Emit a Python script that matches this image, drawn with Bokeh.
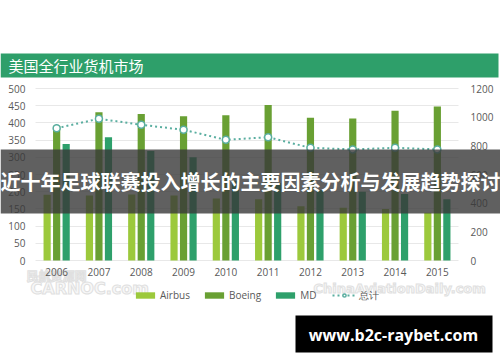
from bokeh.plotting import figure
from bokeh.models import (Range1d, LinearAxis, FixedTicker, Grid,
                          Legend, LegendItem, BoxAnnotation, Label, ColumnDataSource)
from bokeh.embed import file_html
from bokeh.resources import INLINE

years = ["2006", "2007", "2008", "2009", "2010", "2011", "2012", "2013", "2014", "2015"]
airbus = [191, 189, 192, 189, 180, 178, 158, 153, 150, 139]
boeing = [392, 431, 426, 419, 422, 452, 415, 413, 435, 448]
md = [339, 358, 318, 300, 232, 225, 205, 200, 193, 178]
total = [923, 989, 947, 912, 842, 860, 786, 775, 786, 775]

left_ticks = [0, 50, 100, 150, 200, 250, 300, 350, 400, 450, 500]
right_ticks = [0, 200, 400, 600, 800, 1000, 1200]

C_AIR = "#9cc93c"
C_BOE = "#69a033"
C_MD = "#2ea06b"
C_TOT = "#5aaea0"
TICK_COLOR = "#595959"
FONT = "Open Sans"

# canvas geometry (px)
W, H = 500, 362
FL, FR, FT, FB = 35, 458, 88, 260   # chart plotting area inside the canvas

n = len(years)
idx = list(range(n))
ux = (FR - FL) / n
x_start = -0.5 - FL / ux
x_end = n - 0.5 + (W - FR) / ux
lmax, rmax = left_ticks[-1], right_ticks[-1]
uy = (FB - FT) / lmax
uy2 = (FB - FT) / rmax

src = ColumnDataSource(dict(x=idx, year=years, airbus=airbus, boeing=boeing, md=md, total=total,
                            xa=[i - 0.225 for i in idx], xm=[i + 0.225 for i in idx]))

p = figure(width=W, height=H, x_range=Range1d(x_start, x_end),
           y_range=Range1d(-(H - FB) / uy, lmax + FT / uy),
           output_backend="svg", toolbar_location=None, title=None,
           x_axis_location=None, y_axis_location=None,
           min_border=0, min_border_left=0, min_border_right=0,
           min_border_top=0, min_border_bottom=0,
           background_fill_color="white", border_fill_color="white", outline_line_color=None)
p.extra_y_ranges = {"total": Range1d(-(H - FB) / uy2, rmax + FT / uy2)}
p.grid.visible = False

# faint watermarks (beneath everything else)
for txt, cx, cy, fs, fnt in [("民航资源网", 26, 275, "12px", "Noto Sans CJK SC"),
                             ("CARNOC.com", 30, 288, "16px", "DejaVu Sans"),
                             ("ChinaAviationDaily.com", 313, 288, "13px", "DejaVu Sans")]:
    p.add_layout(Label(x=cx, y=H - cy, x_units="screen", y_units="screen", text=txt,
                       text_font=fnt, text_font_size=fs, text_font_style="bold",
                       text_color="#f8f8f8", text_alpha=1, text_baseline="middle",
                       text_align="left", text_outline_color="#e0e0e0", level="underlay"))

# horizontal grid lines (left-axis ticks), limited to the chart width
if "cross_bounds" in Grid.properties():
    g = Grid(dimension=1, ticker=FixedTicker(ticks=left_ticks), bounds=(0, lmax),
             cross_bounds=(-0.5, n - 0.5), grid_line_color="#e8e8e8", grid_line_width=1)
    p.add_layout(g)
else:
    p.segment(x0=[-0.5] * len(left_ticks), x1=[n - 0.5] * len(left_ticks),
              y0=left_ticks, y1=left_ticks, line_color="#e8e8e8", line_width=1)

r_air = p.vbar(x="xa", top="airbus", width=0.17, source=src, fill_color=C_AIR, line_color=None)
r_boe = p.vbar(x="x", top="boeing", width=0.17, source=src, fill_color=C_BOE, line_color=None)
r_md = p.vbar(x="xm", top="md", width=0.17, source=src, fill_color=C_MD, line_color=None)
r_line = p.line("x", "total", source=src, y_range_name="total",
                line_color=C_TOT, line_width=2, line_dash="2 3")
r_pts = p.scatter("x", "total", source=src, y_range_name="total", size=7,
                  fill_color="white", line_color=C_TOT, line_width=1.5)

def style_axis(ax, standoff):
    ax.axis_line_color = None
    ax.major_tick_line_color = None
    ax.minor_tick_line_color = None
    ax.major_tick_out = 0
    ax.major_tick_in = 0
    ax.major_label_standoff = standoff
    ax.major_label_text_font = FONT
    ax.major_label_text_font_size = "10px"
    ax.major_label_text_color = TICK_COLOR

lax = LinearAxis(ticker=FixedTicker(ticks=left_ticks), bounds=(0, lmax), fixed_location=-0.5)
style_axis(lax, 10)
p.add_layout(lax, "left")

rax = LinearAxis(y_range_name="total", ticker=FixedTicker(ticks=right_ticks), bounds=(0, rmax),
                 fixed_location=n - 0.5)
style_axis(rax, 12)
p.add_layout(rax, "right")

bax = LinearAxis(ticker=FixedTicker(ticks=idx), bounds=(-0.5, n - 0.5), fixed_location=0,
                 major_label_overrides={i: y for i, y in zip(idx, years)})
style_axis(bax, 7)
p.add_layout(bax, "below")

# screen coordinates (frame = whole canvas, origin bottom-left)
def sx(cx):
    return cx

def sy(cy):
    return H - cy

legend = Legend(items=[
    LegendItem(label="Airbus", renderers=[r_air]),
    LegendItem(label="Boeing", renderers=[r_boe]),
    LegendItem(label="MD", renderers=[r_md]),
    LegendItem(label="总计", renderers=[r_line, r_pts]),
], orientation="horizontal", location=(sx(133), sy(302.5)))
legend.glyph_width = 24
legend.glyph_height = 8
legend.label_height = 12
legend.label_standoff = 3
legend.spacing = 12
legend.padding = 0
legend.margin = 0
legend.label_text_font = FONT
legend.label_text_font_size = "10px"
legend.label_text_color = TICK_COLOR
legend.border_line_color = None
legend.background_fill_alpha = 0
p.add_layout(legend, "center")

# title band
p.add_layout(BoxAnnotation(left=sx(0), right=sx(498), top=sy(53), bottom=sy(77),
                           left_units="screen", right_units="screen",
                           top_units="screen", bottom_units="screen",
                           fill_color="#2e9f6a", fill_alpha=1, line_color=None))
p.add_layout(Label(x=sx(8), y=sy(65), x_units="screen", y_units="screen",
                   text="美国全行业货机市场", text_font="Noto Sans CJK SC",
                   text_font_size="15px", text_color="white", text_baseline="middle",
                   text_align="left"))

# dark banner
p.add_layout(BoxAnnotation(left=sx(0), right=sx(500), top=sy(149), bottom=sy(213),
                           left_units="screen", right_units="screen",
                           top_units="screen", bottom_units="screen",
                           fill_color="#383838", fill_alpha=0.8, line_color=None))
p.add_layout(Label(x=sx(250), y=sy(181), x_units="screen", y_units="screen",
                   text="近十年足球联赛投入增长的主要因素分析与发展趋势探讨",
                   text_font="Noto Sans CJK SC", text_font_size="20px",
                   text_font_style="bold", text_color="white",
                   text_baseline="middle", text_align="center"))

# site watermark
p.add_layout(BoxAnnotation(left=sx(295), right=sx(492), top=sy(315), bottom=sy(352),
                           left_units="screen", right_units="screen",
                           top_units="screen", bottom_units="screen",
                           fill_color="black", fill_alpha=1, line_color=None))
p.add_layout(Label(x=sx(393), y=sy(334), x_units="screen", y_units="screen",
                   text="www.b2c-raybet.com", text_font=FONT, text_font_size="16px",
                   text_font_style="bold", text_color="white",
                   text_baseline="middle", text_align="center"))

open("out.html", "w").write(file_html(p, INLINE))
